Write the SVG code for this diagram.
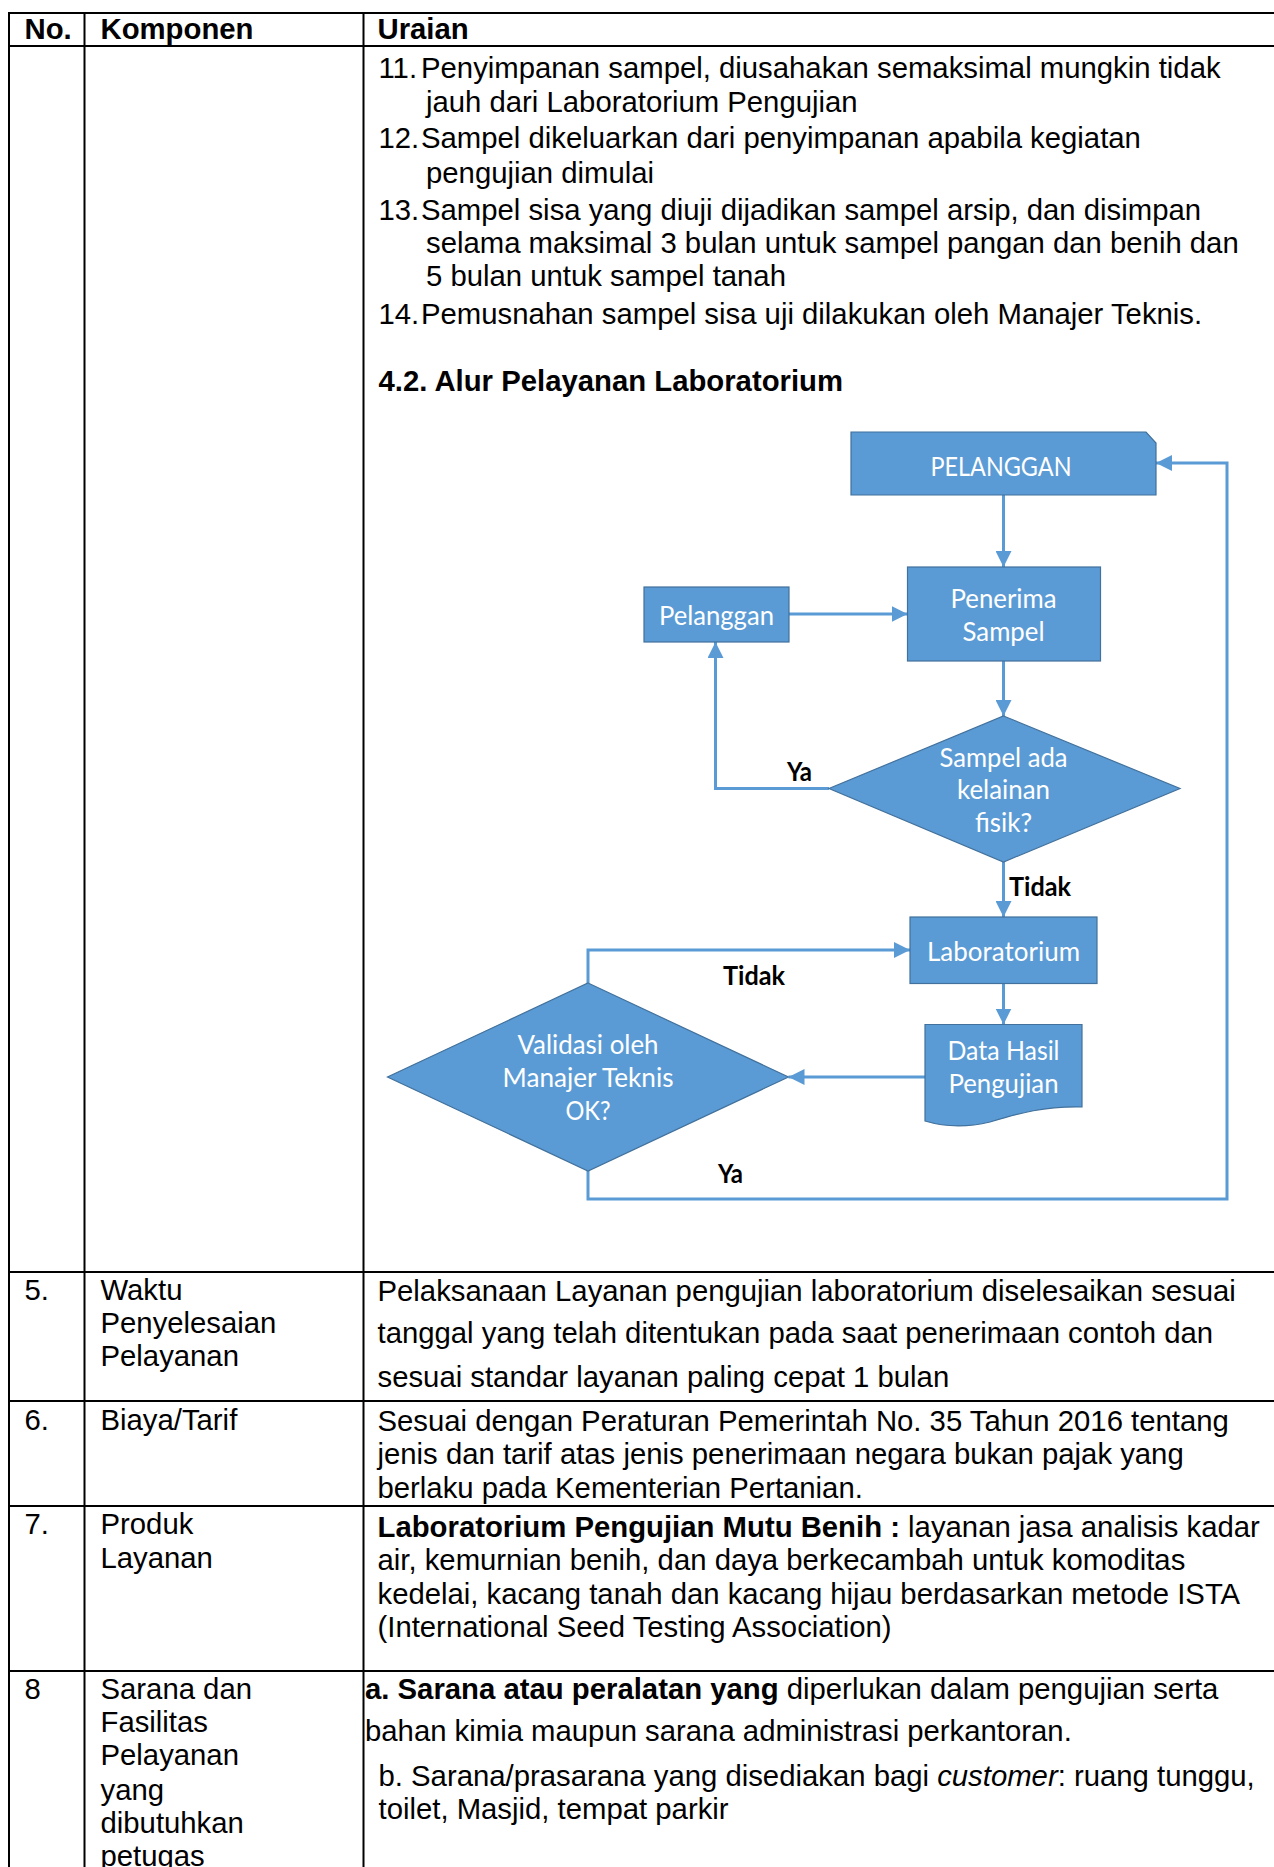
<svg xmlns="http://www.w3.org/2000/svg" width="1274" height="1867" viewBox="0 0 1274 1867">
<style>
.t{font-family:"Liberation Sans",Arial,sans-serif;font-size:29.3px;fill:#000}
.b{font-weight:bold}
.i{font-style:italic}
.fc{font-family:Lato,"Liberation Sans",sans-serif;font-size:27.5px;fill:#fff;text-anchor:middle}
.lbl{font-family:Lato,"Liberation Sans",sans-serif;font-weight:bold;font-size:27.5px;fill:#000}
.shape{fill:#5B9BD5;stroke:#41719C;stroke-width:1.2}
.conn{fill:none;stroke:#5B9BD5;stroke-width:3;marker-end:url(#ah)}
.grid{stroke:#000;stroke-width:2;fill:none}
</style>
<defs>
<marker id="ah" markerWidth="16" markerHeight="16" refX="16" refY="8" orient="auto" markerUnits="userSpaceOnUse">
<path d="M0,0 L16,8 L0,16 z" fill="#5B9BD5"/>
</marker>
</defs>
<rect width="1274" height="1867" fill="#fff"/>
<g id="table-grid" class="grid">
<line x1="9" y1="13" x2="1274" y2="13"/>
<line x1="9" y1="46" x2="1274" y2="46"/>
<line x1="9" y1="1272" x2="1274" y2="1272"/>
<line x1="9" y1="1401" x2="1274" y2="1401"/>
<line x1="9" y1="1506" x2="1274" y2="1506"/>
<line x1="9" y1="1671" x2="1274" y2="1671"/>
<line x1="9" y1="12" x2="9" y2="1867"/>
<line x1="84.5" y1="12" x2="84.5" y2="1867"/>
<line x1="363.5" y1="12" x2="363.5" y2="1867"/>
</g>
<g id="header" class="t b">
<text x="24.5" y="38.5">No.</text>
<text x="100.5" y="38.5">Komponen</text>
<text x="377.5" y="38.5">Uraian</text>
</g>
<g id="list-text" class="t">
<text x="378.5" y="78">11.</text>
<text x="421" y="78">Penyimpanan sampel, diusahakan semaksimal mungkin tidak</text>
<text x="426" y="112">jauh dari Laboratorium Pengujian</text>
<text x="378.5" y="148">12.</text>
<text x="421" y="148">Sampel dikeluarkan dari penyimpanan apabila kegiatan</text>
<text x="426" y="183">pengujian dimulai</text>
<text x="378.5" y="220">13.</text>
<text x="421" y="220">Sampel sisa yang diuji dijadikan sampel arsip, dan disimpan</text>
<text x="426" y="253">selama maksimal 3 bulan untuk sampel pangan dan benih dan</text>
<text x="426" y="286">5 bulan untuk sampel tanah</text>
<text x="378.5" y="324">14.</text>
<text x="421" y="324">Pemusnahan sampel sisa uji dilakukan oleh Manajer Teknis.</text>
<text x="378.5" y="391" class="b">4.2. Alur Pelayanan Laboratorium</text>
</g>
<g id="connectors">
<path class="conn" d="M1003.5,495 V567"/>
<path class="conn" d="M789,614 H907.5"/>
<path class="conn" d="M1003.5,661 V716"/>
<path class="conn" d="M829,788.5 H715.5 V642"/>
<path class="conn" d="M1003.5,862 V917"/>
<path class="conn" d="M1003.5,983.5 V1024.5"/>
<path class="conn" d="M925,1077 H788.5"/>
<path class="conn" d="M588,983 V950 H910"/>
<path class="conn" d="M588,1171 V1199 H1227 V463 H1156"/>
<text class="lbl" x="787" y="781" textLength="25" lengthAdjust="spacingAndGlyphs">Ya</text>
<text class="lbl" x="1009" y="896" textLength="62" lengthAdjust="spacingAndGlyphs">Tidak</text>
<text class="lbl" x="723" y="985" textLength="62" lengthAdjust="spacingAndGlyphs">Tidak</text>
<text class="lbl" x="718" y="1183" textLength="25" lengthAdjust="spacingAndGlyphs">Ya</text>
</g>
<g id="node-pelanggan-top">
<path class="shape" d="M851,432 H1146 L1156,443 V495 H851 Z"/>
<text class="fc" x="1001" y="476" textLength="141" lengthAdjust="spacingAndGlyphs">PELANGGAN</text>
</g>
<g id="node-pelanggan">
<rect class="shape" x="644" y="587" width="145" height="55"/>
<text class="fc" x="716.5" y="624.5" textLength="115" lengthAdjust="spacingAndGlyphs">Pelanggan</text>
</g>
<g id="node-penerima">
<rect class="shape" x="907.5" y="567" width="193" height="94"/>
<text class="fc" x="1003.5" y="608" textLength="106" lengthAdjust="spacingAndGlyphs">Penerima</text>
<text class="fc" x="1003.5" y="641" textLength="82" lengthAdjust="spacingAndGlyphs">Sampel</text>
</g>
<g id="node-kelainan">
<polygon class="shape" points="1003.5,716 1180,788.5 1003.5,862 829,788.5"/>
<text class="fc" x="1003.5" y="767" textLength="128" lengthAdjust="spacingAndGlyphs">Sampel ada</text>
<text class="fc" x="1003.5" y="799" textLength="93" lengthAdjust="spacingAndGlyphs">kelainan</text>
<text class="fc" x="1003.5" y="832" textLength="57" lengthAdjust="spacingAndGlyphs">fisik?</text>
</g>
<g id="node-laboratorium">
<rect class="shape" x="910" y="917" width="187" height="66.5"/>
<text class="fc" x="1003.5" y="960.5" textLength="153" lengthAdjust="spacingAndGlyphs">Laboratorium</text>
</g>
<g id="node-data">
<path class="shape" d="M925,1024.5 H1082 V1107 C1045,1106 1020,1113 990,1122 C965,1128 945,1127 925,1121 Z"/>
<text class="fc" x="1003.5" y="1060" textLength="112" lengthAdjust="spacingAndGlyphs">Data Hasil</text>
<text class="fc" x="1003.5" y="1092.5" textLength="110" lengthAdjust="spacingAndGlyphs">Pengujian</text>
</g>
<g id="node-validasi">
<polygon class="shape" points="588,983 788.5,1077 588,1171 387.5,1077"/>
<text class="fc" x="588" y="1053.5" textLength="141" lengthAdjust="spacingAndGlyphs">Validasi oleh</text>
<text class="fc" x="588" y="1086.5" textLength="171" lengthAdjust="spacingAndGlyphs">Manajer Teknis</text>
<text class="fc" x="588" y="1120" textLength="45" lengthAdjust="spacingAndGlyphs">OK?</text>
</g>
<g id="row5" class="t">
<text x="24.5" y="1300">5.</text>
<text x="100.5" y="1300">Waktu</text>
<text x="100.5" y="1333">Penyelesaian</text>
<text x="100.5" y="1366">Pelayanan</text>
<text x="377.5" y="1301">Pelaksanaan Layanan pengujian laboratorium diselesaikan sesuai</text>
<text x="377.5" y="1343">tanggal yang telah ditentukan pada saat penerimaan contoh dan</text>
<text x="377.5" y="1387">sesuai standar layanan paling cepat 1 bulan</text>
</g>
<g id="row6" class="t">
<text x="24.5" y="1430">6.</text>
<text x="100.5" y="1430">Biaya/Tarif</text>
<text x="377.5" y="1431">Sesuai dengan Peraturan Pemerintah No. 35 Tahun 2016 tentang</text>
<text x="377.5" y="1464">jenis dan tarif atas jenis penerimaan negara bukan pajak yang</text>
<text x="377.5" y="1497.5">berlaku pada Kementerian Pertanian.</text>
</g>
<g id="row7" class="t">
<text x="24.5" y="1534">7.</text>
<text x="100.5" y="1534">Produk</text>
<text x="100.5" y="1568">Layanan</text>
<text x="377.5" y="1537"><tspan class="b">Laboratorium Pengujian Mutu Benih :</tspan> layanan jasa analisis kadar</text>
<text x="377.5" y="1570">air, kemurnian benih, dan daya berkecambah untuk komoditas</text>
<text x="377.5" y="1603.5">kedelai, kacang tanah dan kacang hijau berdasarkan metode ISTA</text>
<text x="377.5" y="1637">(International Seed Testing Association)</text>
</g>
<g id="row8" class="t">
<text x="24.5" y="1698.5">8</text>
<text x="100.5" y="1698.5">Sarana dan</text>
<text x="100.5" y="1732">Fasilitas</text>
<text x="100.5" y="1765">Pelayanan</text>
<text x="100.5" y="1800">yang</text>
<text x="100.5" y="1833">dibutuhkan</text>
<text x="100.5" y="1866">petugas</text>
<text x="365" y="1698.5"><tspan class="b">a. Sarana atau peralatan yang</tspan> diperlukan dalam pengujian serta</text>
<text x="365" y="1740.5">bahan kimia maupun sarana administrasi perkantoran.</text>
<text x="378.5" y="1785.5">b. Sarana/prasarana yang disediakan bagi <tspan class="i">customer</tspan>: ruang tunggu,</text>
<text x="378.5" y="1819">toilet, Masjid, tempat parkir</text>
</g>
</svg>
